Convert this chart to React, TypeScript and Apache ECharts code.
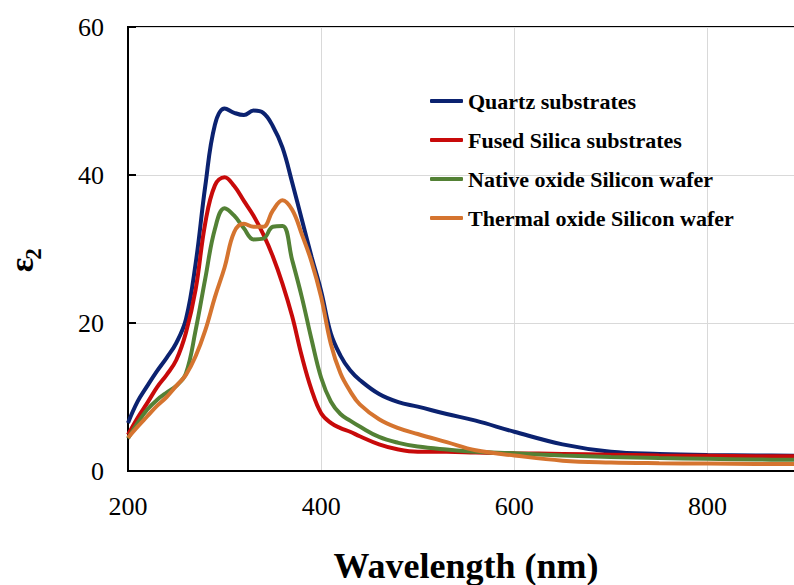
import React, { useEffect, useRef } from "react";
import * as echarts from "echarts";

const wavelength = [200, 210, 220, 230, 240, 250, 260, 270, 280, 290, 300, 310, 320, 330, 340, 350, 360, 370, 380, 390, 400, 410, 420, 430, 440, 460, 480, 500, 530, 560, 600, 650, 700, 750, 800, 850, 900];

const quartz = [6.5, 9.4, 11.5, 13.5, 15.3, 17.3, 20.5, 28, 38.5, 46.8, 49, 48.4, 48.1, 48.7, 48.4, 46.6, 43.7, 39, 34, 29, 24.3, 18.6, 15.6, 13.6, 12.3, 10.4, 9.3, 8.7, 7.7, 6.8, 5.3, 3.6, 2.6, 2.3, 2.15, 2.1, 2.05];
const fusedSilica = [4.9, 7.2, 9.2, 11.3, 13.0, 15.0, 18.7, 24.5, 33.5, 38.6, 39.7, 38.5, 36.5, 34.5, 32.0, 29.0, 25.3, 20.9, 15.5, 11, 7.8, 6.5, 5.8, 5.3, 4.7, 3.6, 2.9, 2.6, 2.6, 2.5, 2.4, 2.3, 2.2, 2.1, 2.05, 2.0, 2.0];
const nativeOxide = [4.4, 6.5, 8.3, 9.6, 10.6, 11.5, 13.2, 19, 26, 32.7, 35.5, 34.5, 32.8, 31.3, 31.4, 33.0, 33.1, 28.5, 23.5, 17.8, 12.6, 9.4, 7.7, 6.8, 6.0, 4.6, 3.8, 3.3, 2.9, 2.6, 2.4, 2.1, 1.9, 1.75, 1.65, 1.55, 1.5];
const thermalOxide = [4.5, 6.0, 7.4, 8.8, 10.0, 11.5, 13.0, 15.5, 19, 23.5, 27.5, 32.3, 33.4, 33.0, 33.0, 35.2, 36.6, 35.3, 32.0, 28.3, 23.5, 17.2, 13.2, 10.8, 9.0, 7.0, 5.8, 5.0, 3.9, 2.8, 2.1, 1.4, 1.15, 1.05, 1.0, 0.95, 0.95];

const seriesNames = ["Quartz substrates", "Fused Silica substrates", "Native oxide Silicon wafer", "Thermal oxide Silicon wafer"];
const seriesColors = ["#0b2270", "#c80a0a", "#538135", "#d5742f"];
const xTicks = [200, 400, 600, 800];
const yTicks = [0, 20, 40, 60];

const FONT = "'Liberation Serif', 'Times New Roman', serif";

export default function App() {
  const ref = useRef<HTMLDivElement>(null);
  useEffect(() => {
    document.body.style.margin = "0";
    if (!ref.current) return;
    const chart = echarts.init(ref.current, undefined, { renderer: "svg" });
    const all = [quartz, fusedSilica, nativeOxide, thermalOxide];
    chart.setOption({
      animation: false,
      backgroundColor: "#ffffff",
      grid: {
        left: 128,
        top: 27,
        width: 676,
        height: 444,
        outerBoundsMode: "none",
        containLabel: false,
        show: true,
        borderColor: "#000",
        borderWidth: 2,
        backgroundColor: "transparent",
      },
      legend: {
        orient: "vertical",
        left: 430,
        top: 90,
        padding: 0,
        itemWidth: 33,
        itemHeight: 4,
        itemGap: 17,
        icon: "roundRect",
        data: seriesNames,
        textStyle: { fontFamily: FONT, fontWeight: "bold", fontSize: 22, color: "#000" },
      },
      xAxis: {
        type: "value",
        min: 200,
        max: 900,
        interval: 200,
        name: "Wavelength (nm)",
        nameLocation: "middle",
        nameGap: 77,
        nameTextStyle: { fontFamily: FONT, fontWeight: "bold", fontSize: 36, color: "#000" },
        axisLine: { show: true, lineStyle: { color: "#000", width: 2 } },
        axisTick: { show: false },
        axisLabel: {
          fontFamily: FONT,
          fontSize: 26,
          color: "#000",
          margin: 22,
          formatter: (v: number) => (xTicks.includes(v) ? String(v) : ""),
        },
        splitLine: { show: true, lineStyle: { color: "#d9d9d9", width: 1 } },
      },
      yAxis: {
        type: "value",
        min: 0,
        max: 60,
        interval: 20,
        axisLine: { show: true, lineStyle: { color: "#000", width: 2 } },
        axisTick: { show: true, inside: true, length: 8, lineStyle: { color: "#000", width: 2 } },
        axisLabel: {
          fontFamily: FONT,
          fontSize: 26,
          color: "#000",
          margin: 24,
          formatter: (v: number) => (yTicks.includes(v) ? String(v) : ""),
        },
        splitLine: { show: true, lineStyle: { color: "#d9d9d9", width: 1 } },
      },
      graphic: [
        {
          type: "text",
          x: 21,
          y: 265,
          rotation: Math.PI / 2,
          style: { text: "ε", font: `bold 34px ${FONT}`, fill: "#000", align: "center", verticalAlign: "middle" },
        },
        {
          type: "text",
          x: 33,
          y: 254,
          rotation: Math.PI / 2,
          style: { text: "2", font: `bold 23px ${FONT}`, fill: "#000", align: "center", verticalAlign: "middle" },
        },
      ],
      series: seriesNames.map((name, i) => ({
        name,
        type: "line",
        symbol: "none",
        smooth: 0.4,
        clip: true,
        color: seriesColors[i],
        lineStyle: { width: 4, color: seriesColors[i] },
        data: wavelength.map((w, j) => [w, all[i][j]]),
      })),
    });
    return () => chart.dispose();
  }, []);
  return <div ref={ref} style={{ width: 794, height: 585 }} />;
}
